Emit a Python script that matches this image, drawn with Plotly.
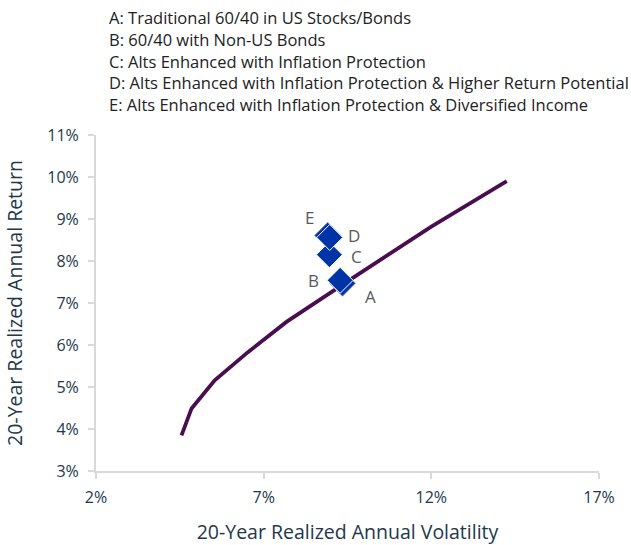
import plotly.graph_objects as go

# frontier curve (volatility %, return %)
frontier_vol = [4.55, 4.85, 5.54, 6.53, 7.68, 9.01, 9.66, 12.0, 14.25]
frontier_ret = [3.85, 4.49, 5.16, 5.83, 6.55, 7.26, 7.60, 8.82, 9.90]

# portfolios
port_names = ["A", "B", "C", "E", "D"]
port_vol = [9.35, 9.28, 8.96, 8.97, 8.91]
port_ret = [7.47, 7.54, 8.15, 8.56, 8.61]

legend_lines = [
    "A: Traditional 60/40 in US Stocks/Bonds",
    "B: 60/40 with Non-US Bonds",
    "C: Alts Enhanced with Inflation Protection",
    "D: Alts Enhanced with Inflation Protection & Higher Return Potential",
    "E: Alts Enhanced with Inflation Protection & Diversified Income",
]

x_ticks = [2, 7, 12, 17]
y_ticks = [3, 4, 5, 6, 7, 8, 9, 10, 11]

font_family = "Open Sans, Lato, sans-serif"
axis_color = "#22384a"
grid_color = "#d9d9d9"

fig = go.Figure()

fig.add_trace(go.Scatter(
    x=frontier_vol, y=frontier_ret,
    mode="lines",
    line=dict(color="#4a0d4f", width=3.8),
    hoverinfo="skip",
))

# draw A below B, D below E (slight overlap like the original)
order = [0, 1, 2, 4, 3]
fig.add_trace(go.Scatter(
    x=[port_vol[i] for i in order],
    y=[port_ret[i] for i in order],
    mode="markers",
    marker=dict(symbol="diamond", size=20, color="#0033a6",
                line=dict(color=["#9aa3ad", "white", "white", "#6f86c9", "white"], width=1)),
    hoverinfo="skip",
))

# point labels
label_shift = {
    "A": (28, -13),
    "B": (-27, 0),
    "C": (27, -2),
    "D": (26, 0),
    "E": (-20, 20),
}
for name, vx, vy in zip(port_names, port_vol, port_ret):
    dx, dy = label_shift[name]
    fig.add_annotation(
        x=vx, y=vy, text=name, showarrow=False,
        xshift=dx, yshift=dy,
        font=dict(family=font_family, size=17, color="#595959"),
    )

# legend text block at the top
for i, line in enumerate(legend_lines):
    fig.add_annotation(
        xref="paper", yref="paper",
        x=0.022, y=1.35 - i * 0.065,
        xanchor="left", yanchor="middle",
        text=line, showarrow=False,
        font=dict(family=font_family, size=16.5, color="#222222"),
    )

fig.update_layout(
    width=631, height=545,
    margin=dict(l=96, r=32, t=135, b=74),
    plot_bgcolor="white", paper_bgcolor="white",
    showlegend=False,
    font=dict(family=font_family, color=axis_color),
)

fig.update_xaxes(
    range=[2, 17],
    tickvals=x_ticks,
    ticktext=[f"{v}%" for v in x_ticks],
    showgrid=False, zeroline=False, automargin=False,
    showline=True, linecolor=grid_color, linewidth=2,
    ticks="outside", tickcolor=grid_color, ticklen=6, tickwidth=2,
    tickfont=dict(size=16, color=axis_color),
    ticklabelstandoff=5,
    title=dict(text="20-Year Realized Annual Volatility",
               font=dict(size=19.5, color=axis_color), standoff=20),
)
fig.update_yaxes(
    range=[3, 11],
    tickvals=y_ticks,
    ticktext=[f"{v}%" for v in y_ticks],
    showgrid=False, zeroline=False, automargin=False,
    showline=True, linecolor=grid_color, linewidth=2,
    ticks="outside", tickcolor=grid_color, ticklen=6, tickwidth=2,
    tickfont=dict(size=16, color=axis_color),
    ticklabelstandoff=6,
    title=dict(text="20-Year Realized Annual Return",
               font=dict(size=19.5, color=axis_color), standoff=19),
)

fig.write_html("out.html", config={"displayModeBar": False},
               post_script="document.body.style.margin='0';")
